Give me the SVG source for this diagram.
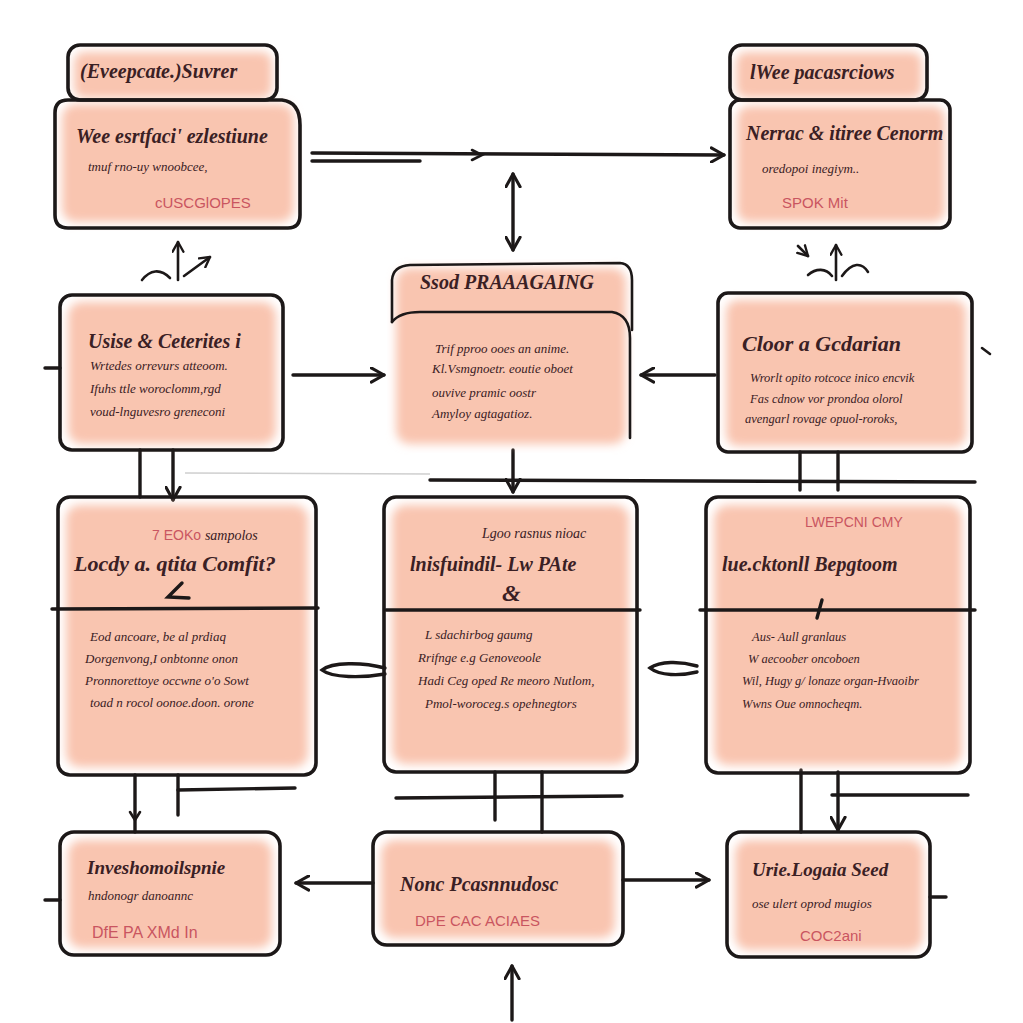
<svg xmlns="http://www.w3.org/2000/svg" width="1023" height="1023" viewBox="0 0 1023 1023">
<defs>
<filter id="soft" x="-10%" y="-10%" width="120%" height="120%"><feGaussianBlur stdDeviation="5"/></filter>
<marker id="ah" viewBox="0 0 12 12" refX="10" refY="6" markerWidth="5" markerHeight="5" orient="auto-start-reverse" markerUnits="strokeWidth"><path d="M1,1 L10,6 L1,11" fill="none" stroke="#1c1818" stroke-width="2.2" stroke-linecap="round" stroke-linejoin="round"/></marker>
</defs>
<style>
.fill{fill:#f9c5b0;filter:url(#soft)}
.box{fill:none;stroke:#1c1818;stroke-width:3.6;stroke-linejoin:round}
.ln{fill:none;stroke:#1c1818;stroke-width:3.4;stroke-linecap:round}
.thin{fill:none;stroke:#1c1818;stroke-width:2.6;stroke-linecap:round}
.faint{fill:none;stroke:#cfcfcf;stroke-width:1.5}
.t{font-family:"Liberation Serif",serif;font-style:italic;fill:#3a2024}
.h{font-size:20px;font-weight:bold}
.b{font-size:13px}
.r{font-family:"Liberation Sans",sans-serif;fill:#c95560;font-size:15px}
</style>
<rect width="1023" height="1023" fill="#ffffff"/>

<g id="connectors">
<path class="ln" d="M312,153 L724,155" marker-end="url(#ah)"/>
<path class="ln" d="M312,161 L420,161"/>
<path class="thin" d="M472,150 L482,155 L472,160"/>
<path class="ln" d="M513,174 L513,250" marker-start="url(#ah)" marker-end="url(#ah)"/>
<path class="thin" d="M142,280 C150,270 160,268 170,278"/>
<path class="thin" d="M178,280 L178,242" marker-end="url(#ah)"/>
<path class="thin" d="M184,276 L210,257" marker-end="url(#ah)"/>
<path class="thin" d="M808,275 C816,268 826,268 832,276"/>
<path class="thin" d="M836,280 L836,245" marker-end="url(#ah)"/>
<path class="thin" d="M842,276 C852,262 862,262 868,272"/>
<path class="thin" d="M798,246 L808,256" marker-end="url(#ah)"/>
<path class="ln" d="M293,375 L384,375" marker-end="url(#ah)"/>
<path class="ln" d="M715,375 L641,375" marker-end="url(#ah)"/>
<path class="ln" d="M45,368 L60,368"/>
<path class="thin" d="M982,348 L990,354"/>
<path class="ln" d="M140,450 L140,497"/>
<path class="ln" d="M173,450 L173,500" marker-end="url(#ah)"/>
<path class="ln" d="M513,450 L513,492" marker-end="url(#ah)"/>
<path class="ln" d="M800,452 L800,490"/>
<path class="ln" d="M838,452 L838,490"/>
<path class="faint" d="M185,473 L430,474"/>
<path class="ln" d="M430,480 L975,482"/>
<path class="ln" d="M385,668 C362,662 332,662 322,670 C332,678 362,678 385,674"/>
<path class="ln" d="M697,666 C680,661 660,661 650,668 C660,676 680,676 697,672"/>
<path class="ln" d="M135,775 L135,832"/>
<path class="thin" d="M130,812 L135,820 L140,812"/>
<path class="ln" d="M178,775 L178,815"/>
<path class="ln" d="M178,790 L295,788"/>
<path class="ln" d="M495,772 L495,820"/>
<path class="ln" d="M542,772 L542,832"/>
<path class="ln" d="M396,798 L622,796"/>
<path class="ln" d="M801,770 L801,832"/>
<path class="ln" d="M838,772 L838,830" marker-end="url(#ah)"/>
<path class="ln" d="M832,795 L968,795"/>
<path class="ln" d="M373,883 L296,883" marker-end="url(#ah)"/>
<path class="ln" d="M623,880 L709,880" marker-end="url(#ah)"/>
<path class="ln" d="M930,897 L946,897"/>
<path class="ln" d="M45,900 L60,900"/>
<path class="ln" d="M512,1020 L512,966" marker-end="url(#ah)"/>
</g>

<g id="node1">
<rect class="fill" x="74" y="52" width="198" height="46" rx="10"/>
<rect class="fill" x="62" y="104" width="232" height="118" rx="14"/>
<rect class="box" x="68" y="45" width="209" height="55" rx="12"/>
<path class="box" d="M68,100 L282,100 Q300,102 300,125 L300,215 Q300,228 288,228 L68,228 Q55,228 55,215 L55,113 Q55,100 68,100 Z"/>
<text class="t h" x="80" y="78">(Eveepcate.)Suvrer</text>
<text class="t h" x="76" y="143">Wee esrtfaci' ezlestiune</text>
<text class="t b" x="88" y="171">tmuf rno-uy wnoobcee,</text>
<text class="r" x="155" y="208">cUSCGlOPES</text>
</g>

<g id="node2">
<rect class="fill" x="736" y="52" width="186" height="46" rx="10"/>
<rect class="fill" x="737" y="106" width="208" height="116" rx="12"/>
<rect class="box" x="730" y="45" width="197" height="55" rx="12"/>
<rect class="box" x="730" y="100" width="220" height="128" rx="10"/>
<text class="t h" x="750" y="79">lWee pacasrciows</text>
<text class="t h" x="746" y="140">Nerrac &amp; itiree Cenorm</text>
<text class="t b" x="762" y="173">oredopoi inegiym..</text>
<text class="r" x="782" y="208">SPOK Mit</text>
</g>

<g id="node3">
<rect class="fill" x="396" y="268" width="230" height="176" rx="14"/>
<path class="thin" d="M392,322 L392,280 Q393,266 410,265 L620,263 Q632,264 632,280 L632,330"/>
<path class="thin" d="M392,322 Q400,312 420,312 L612,312 Q630,315 630,338 L630,438"/>
<text class="t h" x="420" y="289">Ssod PRAAAGAING</text>
<text class="t b" x="435" y="353">Trif pproo ooes an anime.</text>
<text class="t b" x="432" y="373">Kl.Vsmgnoetr. eoutie oboet</text>
<text class="t b" x="432" y="397">ouvive pramic oostr</text>
<text class="t b" x="432" y="418">Amyloy agtagatioz.</text>
</g>

<g id="node4">
<rect class="fill" x="68" y="302" width="208" height="142" rx="14"/>
<rect class="box" x="60" y="295" width="223" height="155" rx="12"/>
<text class="t h" x="88" y="348">Usise &amp; Ceterites i</text>
<text class="t b" x="90" y="370">Wrtedes orrevurs atteoom.</text>
<text class="t b" x="90" y="393">Ifuhs ttle woroclomm,rgd</text>
<text class="t b" x="90" y="416">voud-lnguvesro greneconi</text>
</g>

<g id="node5">
<rect class="fill" x="726" y="300" width="240" height="146" rx="12"/>
<rect class="box" x="718" y="293" width="254" height="159" rx="10"/>
<text class="t h" x="742" y="351" style="font-size:22px">Cloor a Gcdarian</text>
<text class="t b" x="750" y="382" style="font-size:12.5px">Wrorlt opito rotcoce inico encvik</text>
<text class="t b" x="750" y="403" style="font-size:12.5px">Fas cdnow vor prondoa olorol</text>
<text class="t b" x="745" y="423" style="font-size:12.5px">avengarl rovage opuol-roroks,</text>
</g>

<g id="node6">
<rect class="fill" x="66" y="505" width="242" height="262" rx="14"/>
<rect class="box" x="58" y="497" width="258" height="278" rx="12"/>
<path class="ln" d="M52,609 L318,608"/>
<text x="152" y="540"><tspan class="r" style="font-size:14px">7 EOKo </tspan><tspan class="t" style="font-size:14px">sampolos</tspan></text>
<text class="t h" x="74" y="571" style="font-size:22px">Locdy a. qtita Comfit?</text>
<path class="ln" d="M182,583 L168,597 L189,598"/>
<text class="t b" x="90" y="641">Eod ancoare, be al prdiaq</text>
<text class="t b" x="85" y="663">Dorgenvong,I onbtonne onon</text>
<text class="t b" x="85" y="685">Pronnorettoye occwne o'o Sowt</text>
<text class="t b" x="90" y="707">toad n rocol oonoe.doon. orone</text>
</g>

<g id="node7">
<rect class="fill" x="392" y="505" width="237" height="259" rx="14"/>
<rect class="box" x="384" y="497" width="253" height="275" rx="12"/>
<path class="ln" d="M386,610 L640,610"/>
<text class="t" x="482" y="538" style="font-size:14px">Lgoo rasnus nioac</text>
<text class="t h" x="410" y="571">lnisfuindil- Lw PAte</text>
<text class="t" x="502" y="601" style="font-size:24px;font-weight:bold">&amp;</text>
<text class="t b" x="425" y="639">L sdachirbog gaumg</text>
<text class="t b" x="418" y="662">Rrifnge e.g Genoveoole</text>
<text class="t b" x="418" y="685">Hadi Ceg oped Re meoro Nutlom,</text>
<text class="t b" x="425" y="708">Pmol-woroceg.s opehnegtors</text>
</g>

<g id="node8">
<rect class="fill" x="714" y="505" width="248" height="260" rx="14"/>
<rect class="box" x="706" y="497" width="264" height="276" rx="12"/>
<path class="ln" d="M700,610 L975,610"/>
<text class="r" x="805" y="527" style="font-size:14px">LWEPCNI CMY</text>
<text class="t h" x="722" y="571">lue.cktonll Bepgtoom</text>
<path class="ln" d="M822,600 L817,618"/>
<text class="t b" x="752" y="641" style="font-size:12.5px">Aus- Aull granlaus</text>
<text class="t b" x="748" y="663" style="font-size:12.5px">W aecoober oncoboen</text>
<text class="t b" x="742" y="685" style="font-size:12.5px">Wil, Hugy g/ lonaze organ-Hvaoibr</text>
<text class="t b" x="742" y="708" style="font-size:12.5px">Wwns Oue omnocheqm.</text>
</g>

<g id="node9">
<rect class="fill" x="68" y="840" width="204" height="108" rx="14"/>
<rect class="box" x="60" y="832" width="220" height="123" rx="14"/>
<text class="t h" x="87" y="874" style="font-size:19px">Inveshomoilspnie</text>
<text class="t b" x="88" y="900">hndonogr danoannc</text>
<text class="r" x="92" y="938" style="font-size:16px">DfE PA XMd In</text>
</g>

<g id="node10">
<rect class="fill" x="381" y="840" width="234" height="98" rx="14"/>
<rect class="box" x="373" y="832" width="250" height="113" rx="14"/>
<text class="t h" x="400" y="891">Nonc Pcasnnudosc</text>
<text class="r" x="415" y="926">DPE CAC ACIAES</text>
</g>

<g id="node11">
<rect class="fill" x="735" y="840" width="188" height="110" rx="14"/>
<rect class="box" x="727" y="832" width="203" height="125" rx="14"/>
<text class="t h" x="752" y="876" style="font-size:19px">Urie.Logaia Seed</text>
<text class="t b" x="752" y="908">ose ulert oprod mugios</text>
<text class="r" x="800" y="941">COC2ani</text>
</g>
</svg>
